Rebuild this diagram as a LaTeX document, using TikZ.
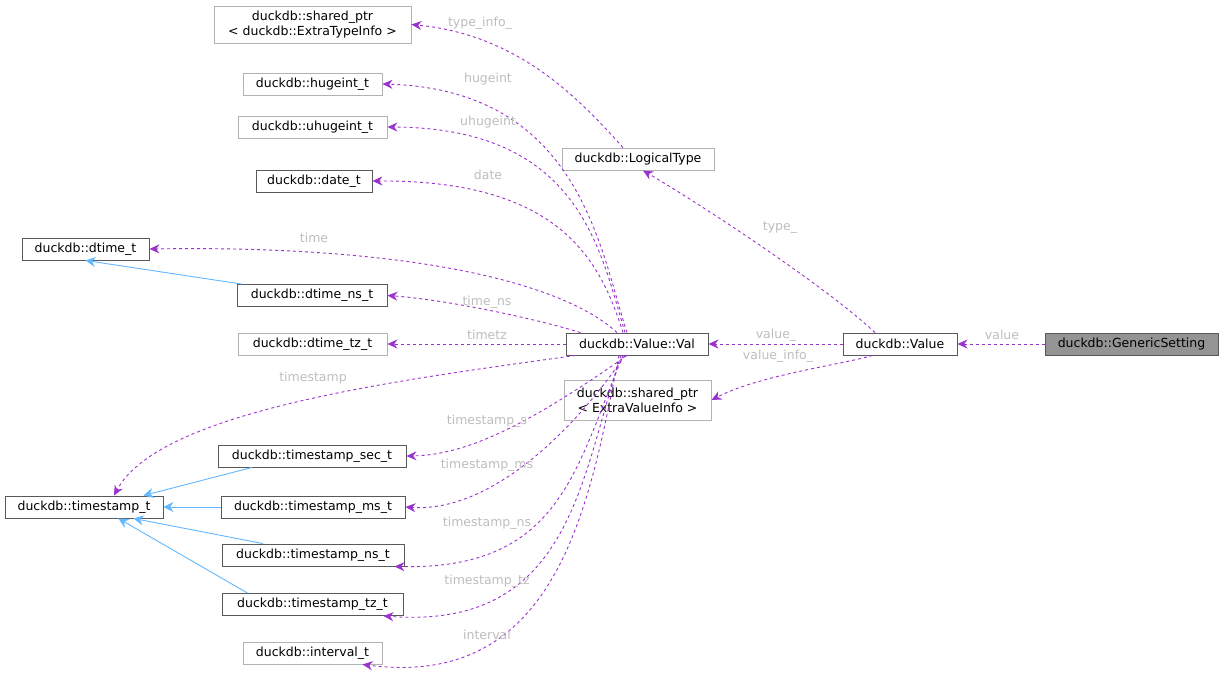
\documentclass[tikz,border=0pt]{standalone}
\usepackage{fontspec}
\setmainfont{DejaVu Sans}
\usetikzlibrary{arrows.meta}
\definecolor{mem}{HTML}{9A32CD}
\definecolor{inh}{HTML}{63B8FF}
\definecolor{lbl}{HTML}{BEBEBE}
\begin{document}
\begin{tikzpicture}[x=1pt,y=-1pt,
  box/.style={draw=black!65,fill=white,inner sep=1pt,font=\fontsize{12.5}{15}\selectfont,align=center,minimum height=22pt,line width=0.9pt},
  gbox/.style={box,draw=black!30},
  mm/.style={draw=mem,dashed,line width=0.9pt,-{Stealth[length=10pt,width=9pt]}},
  ih/.style={draw=inh,line width=0.9pt,-{Stealth[length=10pt,width=10pt]}},
  lb/.style={text=lbl,font=\fontsize{12.5}{14}\selectfont,inner sep=0pt}]
\useasboundingbox (0,0) rectangle (1224,683);
\fill[white] (0,0) rectangle (1224,683);
\def\bx#1#2#3#4#5#6{\node[#2,minimum width=#5-#3 pt] (#1) at ({(#3+#5)/2},#4) {#6};}
\bx{gs}{box,fill=black!42}{1045}{344}{1218}{duckdb::GenericSetting}
\bx{val}{box}{843}{344}{957}{duckdb::Value}
\bx{vv}{box}{566}{344}{708}{duckdb::Value::Val}
\bx{lt}{gbox}{562}{159}{714}{duckdb::LogicalType}
\bx{spt}{gbox,minimum height=37pt}{214}{24.5}{411}{duckdb::shared\_ptr\\< duckdb::ExtraTypeInfo >}
\bx{hu}{gbox}{243}{84}{382}{duckdb::hugeint\_t}
\bx{uhu}{gbox}{238}{127}{387}{duckdb::uhugeint\_t}
\bx{date}{box}{256}{181}{372}{duckdb::date\_t}
\bx{dt}{box}{22}{249}{149}{duckdb::dtime\_t}
\bx{dtns}{box}{237}{295.5}{387}{duckdb::dtime\_ns\_t}
\bx{dttz}{gbox}{238}{344}{387}{duckdb::dtime\_tz\_t}
\bx{spv}{gbox,minimum height=40pt}{564}{400}{711}{duckdb::shared\_ptr\\< ExtraValueInfo >}
\bx{ts}{box}{5}{507}{163}{duckdb::timestamp\_t}
\bx{tss}{box}{218}{456}{406}{duckdb::timestamp\_sec\_t}
\bx{tsms}{box}{221}{507}{405}{duckdb::timestamp\_ms\_t}
\bx{tsns}{box}{222}{555}{404}{duckdb::timestamp\_ns\_t}
\bx{tstz}{box}{222}{604.5}{403}{duckdb::timestamp\_tz\_t}
\bx{iv}{gbox}{243}{653}{382}{duckdb::interval\_t}
% straight members
\draw[mm] (gs) -- (val);
\node[lb] at (1002,335) {value};
\draw[mm] (val) -- (vv);
\node[lb] at (776,335) {value\_};
\draw[mm] ([xshift=-25pt]val.north) .. controls (830,290) and (710,210) .. ([xshift=5pt]lt.south);
\node[lb] at (780,228) {type\_};
\draw[mm] ([xshift=30pt]val.south west) .. controls (840,365) and (760,375) .. (spv.east);
\node[lb] at (778,356) {value\_info\_};
\draw[mm] ([xshift=-15pt]lt.north) .. controls (580,100) and (520,35) .. (spt.east);
\node[lb] at (480,23) {type\_info\_};
\draw[mm] ([xshift=-10pt]vv.north) .. controls (600,250) and (580,90) .. (hu.east);
\node[lb] at (488,79) {hugeint};
\draw[mm] ([xshift=-12pt]vv.north) .. controls (600,250) and (580,128) .. (uhu.east);
\node[lb] at (488,122) {uhugeint};
\draw[mm] ([xshift=-14pt]vv.north) .. controls (600,260) and (560,180) .. (date.east);
\node[lb] at (488,175) {date};
\draw[mm] ([xshift=-20pt]vv.north) .. controls (560,280) and (400,245) .. (dt.east);
\node[lb] at (314,238) {time};
\draw[mm] ([xshift=15pt]vv.north west) .. controls (540,320) and (450,300) .. (dtns.east);
\node[lb] at (487,302) {time\_ns};
\draw[mm] (vv) -- (dttz);
\node[lb] at (487,335) {timetz};
\draw[mm] ([xshift=10pt]vv.south west) .. controls (400,380) and (160,410) .. ([xshift=30pt]ts.north);
\node[lb] at (313,378) {timestamp};
\draw[mm] ([xshift=-10pt]vv.south) .. controls (535,420) and (470,455) .. (tss.east);
\node[lb] at (487,421) {timestamp\_s};
\draw[mm] ([xshift=-12pt]vv.south) .. controls (560,450) and (480,512) .. (tsms.east);
\node[lb] at (487,465) {timestamp\_ms};
\draw[mm] ([xshift=-14pt]vv.south) .. controls (575,470) and (560,570) .. ([xshift=-10pt]tsns.south east);
\node[lb] at (487,523) {timestamp\_ns};
\draw[mm] ([xshift=-16pt]vv.south) .. controls (580,480) and (570,630) .. ([xshift=-20pt]tstz.south east);
\node[lb] at (487,581) {timestamp\_tz};
\draw[mm] ([xshift=-18pt]vv.south) .. controls (590,500) and (560,690) .. ([xshift=-20pt]iv.south east);
\node[lb] at (487,635) {interval};
% inheritance
\draw[ih] ([xshift=5pt]dtns.north west) -- (dt.south);
\draw[ih] ([xshift=-60pt]tss.south) -- ([xshift=-20pt]ts.north east);
\draw[ih] (tsms) -- (ts);
\draw[ih] ([xshift=-50pt]tsns.north) -- ([xshift=-30pt]ts.south east);
\draw[ih] ([xshift=-65pt]tstz.north) -- ([xshift=-45pt]ts.south east);
\end{tikzpicture}
\end{document}
